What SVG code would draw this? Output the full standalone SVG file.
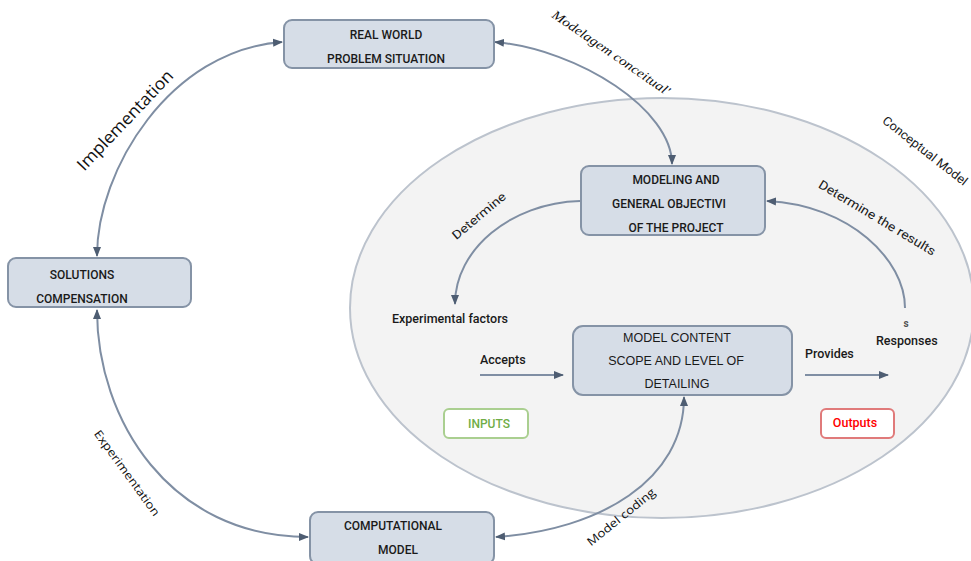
<svg xmlns="http://www.w3.org/2000/svg" width="971" height="561" viewBox="0 0 971 561">
<defs>
<marker id="ah" viewBox="0 0 10 10" refX="9" refY="5" markerWidth="5" markerHeight="5" orient="auto-start-reverse" markerUnits="strokeWidth">
<path d="M0,1 L10,5 L0,9 z" fill="#4e5d72"/>
</marker>
<style>
.box{fill:#d6dde7;stroke:#8593a6;stroke-width:2}
.bt{font-family:Roboto,"Liberation Sans",sans-serif;font-weight:500;font-size:12px;fill:#1a1a1a;text-anchor:middle}
.at{font-family:"Liberation Sans",Arial,sans-serif;font-size:12.5px;fill:#1a1a1a;text-anchor:middle}
.lb{font-family:Roboto,"Liberation Sans",sans-serif;font-weight:500;font-size:12.5px;fill:#1a1a1a}
.rl{font-family:Roboto,"Liberation Sans",sans-serif;font-weight:400;fill:#1a1a1a;text-anchor:middle}
.os{font-family:"Open Sans","Liberation Sans",sans-serif;fill:#111;text-anchor:middle}
.c{fill:none;stroke:#7f8ea3;stroke-width:2}
</style>
</defs>
<rect width="971" height="561" fill="#ffffff"/>
<g id="conceptual-model-area">
<ellipse cx="662" cy="308" rx="312" ry="210" fill="#f3f3f3" stroke="#bcc3cd" stroke-width="2"/>
<text class="rl" font-size="12.5" transform="translate(925,151) rotate(38)" dy="4" textLength="104" lengthAdjust="spacingAndGlyphs">Conceptual Model</text>
</g>
<g id="connectors">
<path class="c" d="M97,256 C97,170 170,50 282,42" marker-start="url(#ah)" marker-end="url(#ah)"/>
<path class="c" d="M97,310 C97,420 170,537 308,537" marker-start="url(#ah)" marker-end="url(#ah)"/>
<path class="c" d="M495,42 C580,50 672,110 672,164" marker-start="url(#ah)" marker-end="url(#ah)"/>
<path class="c" d="M580,201 C510,203 455,250 455,304" marker-end="url(#ah)"/>
<path class="c" d="M905,308 C905,260 850,205 767,201" marker-end="url(#ah)"/>
<path class="c" d="M480,375 L563,375" marker-end="url(#ah)"/>
<path class="c" d="M805,375 L888,375" marker-end="url(#ah)"/>
<path class="c" d="M496,537 C600,530 684,480 684,397" marker-start="url(#ah)" marker-end="url(#ah)"/>
<text class="os" font-size="17" transform="translate(125,120) rotate(-46.5)" dy="6" textLength="131" lengthAdjust="spacingAndGlyphs">Implementation</text>
<text font-family="'Liberation Serif','Times New Roman',serif" font-style="italic" font-size="13" fill="#111" text-anchor="middle" transform="translate(611,53) rotate(34.4)" dy="4" textLength="140" lengthAdjust="spacingAndGlyphs">Modelagem conceitual'</text>
<text class="rl" font-size="12" transform="translate(479,216) rotate(-40)" dy="4" textLength="66" lengthAdjust="spacingAndGlyphs">Determine</text>
<text class="rl" font-size="12.5" transform="translate(877,218) rotate(31)" dy="4" textLength="134" lengthAdjust="spacingAndGlyphs">Determine the results</text>
<text class="os" font-size="11.5" transform="translate(127,473) rotate(54)" dy="4" textLength="103" lengthAdjust="spacingAndGlyphs">Experimentation</text>
<text class="os" font-size="11.5" transform="translate(621,517) rotate(-39)" dy="4" textLength="84" lengthAdjust="spacingAndGlyphs">Model coding</text>
<text class="lb" x="392" y="323">Experimental factors</text>
<text class="lb" x="480" y="364">Accepts</text>
<text class="lb" x="805" y="358">Provides</text>
<text class="lb" x="876" y="345">Responses</text>
<text font-family="Roboto,'Liberation Sans',sans-serif" font-weight="700" font-size="10" fill="#555" x="906" y="327" text-anchor="middle">s</text>
</g>
<g id="real-world">
<rect class="box" x="284" y="20" width="210" height="48" rx="8"/>
<text class="bt" x="386" y="39">REAL WORLD</text>
<text class="bt" x="386" y="63">PROBLEM SITUATION</text>
</g>
<g id="modeling">
<rect class="box" x="581" y="166" width="184" height="69" rx="8"/>
<text class="bt" x="676" y="184">MODELING AND</text>
<text class="bt" x="669" y="208">GENERAL OBJECTIVI</text>
<text class="bt" x="676" y="232">OF THE PROJECT</text>
</g>
<g id="solutions">
<rect class="box" x="8" y="258" width="183" height="49" rx="8"/>
<text class="bt" x="82" y="279">SOLUTIONS</text>
<text class="bt" x="82" y="303">COMPENSATION</text>
</g>
<g id="model-content">
<rect class="box" x="573" y="326" width="219" height="69" rx="10"/>
<text class="at" x="677" y="342">MODEL CONTENT</text>
<text class="at" x="676" y="365">SCOPE AND LEVEL OF</text>
<text class="at" x="677" y="388">DETAILING</text>
</g>
<g id="computational">
<rect class="box" x="310" y="512" width="184" height="52" rx="8"/>
<text class="bt" x="393" y="530">COMPUTATIONAL</text>
<text class="bt" x="398" y="554">MODEL</text>
</g>
<g id="inputs">
<rect x="444" y="409" width="84" height="29" rx="5" fill="#ffffff" stroke="#aacf90" stroke-width="2"/>
<text class="bt" x="489" y="428" style="fill:#70ad47">INPUTS</text>
</g>
<g id="outputs">
<rect x="821" y="409" width="73" height="29" rx="5" fill="#ffffff" stroke="#e07a7a" stroke-width="2"/>
<text class="bt" x="855" y="427" style="fill:#ff0000;font-size:12.5px">Outputs</text>
</g>
</svg>
